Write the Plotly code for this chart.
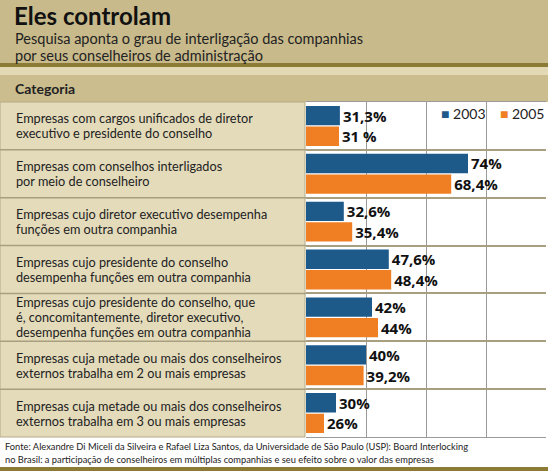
import plotly.graph_objects as go

# dados
categorias = [
    "Empresas com cargos unificados de diretor<br>executivo e presidente do conselho",
    "Empresas com conselhos interligados<br>por meio de conselheiro",
    "Empresas cujo diretor executivo desempenha<br>funções em outra companhia",
    "Empresas cujo presidente do conselho<br>desempenha funções em outra companhia",
    "Empresas cujo presidente do conselho, que<br>é, concomitantemente, diretor executivo,<br>desempenha funções em outra companhia",
    "Empresas cuja metade ou mais dos conselheiros<br>externos trabalha em 2 ou mais empresas",
    "Empresas cuja metade ou mais dos conselheiros<br>externos trabalha em 3 ou mais empresas",
]
v2003 = [31.3, 74, 32.6, 47.6, 42, 40, 30]
v2005 = [31, 68.4, 35.4, 48.4, 44, 39.2, 26]
rot2003 = ["31,3%", "74%", "32,6%", "47,6%", "42%", "40%", "30%"]
rot2005 = ["31 %", "68,4%", "35,4%", "48,4%", "44%", "39,2%", "26%"]

W, H = 548, 471
L, R, T, B = 306, 2, 102, 34
pw, ph = W - L - R, H - T - B

def xp(px):
    return (px - L) / pw

def yp(py):
    return (H - B - py) / ph

azul = "#1d5a8a"
laranja = "#f07f23"
fonte = "Lato"

fig = go.Figure()
fig.add_trace(go.Bar(y=categorias, x=v2003, orientation="h", name="2003",
                     marker=dict(color=azul, line=dict(width=0)),
                     text=rot2003, textposition="outside", constraintext="none",
                     cliponaxis=False, showlegend=False,
                     textfont=dict(family="Open Sans", size=15, color="#111", weight="bold")))
fig.add_trace(go.Bar(y=categorias, x=v2005, orientation="h", name="2005",
                     marker=dict(color=laranja, line=dict(width=0)),
                     text=rot2005, textposition="outside", constraintext="none",
                     cliponaxis=False, showlegend=False,
                     textfont=dict(family="Open Sans", size=15, color="#111", weight="bold")))

shapes = [
    # faixa do título
    dict(type="rect", xref="paper", yref="paper", x0=xp(0), x1=xp(W), y0=yp(63), y1=yp(0),
         fillcolor="#c8ba8b", line_width=0, layer="below"),
    dict(type="rect", xref="paper", yref="paper", x0=xp(0), x1=xp(W), y0=yp(67), y1=yp(63),
         fillcolor="#8c7b34", line_width=0, layer="below"),
    dict(type="rect", xref="paper", yref="paper", x0=xp(0), x1=xp(W), y0=yp(75), y1=yp(67),
         fillcolor="#e3d9b5", line_width=0, layer="below"),
    dict(type="rect", xref="paper", yref="paper", x0=xp(0), x1=xp(W), y0=yp(102), y1=yp(75),
         fillcolor="#cbbd8e", line_width=0, layer="below"),
    # área dos rótulos
    dict(type="rect", xref="paper", yref="paper", x0=xp(0), x1=xp(305), y0=yp(437), y1=yp(102),
         fillcolor="#e4dbbb", line=dict(color="#b5aa85", width=1), layer="below"),
    # linha inferior
    dict(type="rect", xref="paper", yref="paper", x0=xp(0), x1=xp(W), y0=yp(H), y1=yp(467),
         fillcolor="#8c7b34", line_width=0, layer="below"),
]
for i in range(len(categorias) - 1):
    shapes.append(dict(type="line", xref="paper", yref="y", x0=xp(0), x1=xp(306),
                       y0=i + 0.5, y1=i + 0.5, line=dict(color="#a89f80", width=1.5)))

annotations = [
    dict(text="<b>Eles controlam</b>", x=xp(12), y=yp(-0.5), xanchor="left", yanchor="top",
         font=dict(family=fonte, size=24, color="#111")),
    dict(text="Pesquisa aponta o grau de interligação das companhias",
         x=xp(13), y=yp(38.5), xanchor="left", yanchor="middle",
         font=dict(family=fonte, size=14.5, color="#222")),
    dict(text="por seus conselheiros de administração",
         x=xp(13), y=yp(56), xanchor="left", yanchor="middle",
         font=dict(family=fonte, size=14.5, color="#222")),
    dict(text="<b>Categoria</b>", x=xp(13), y=yp(88), xanchor="left", yanchor="middle",
         font=dict(family=fonte, size=14, color="#222")),
    dict(text="Fonte: Alexandre Di Miceli da Silveira e Rafael Liza Santos, da Universidade de São Paulo (USP): Board Interlocking",
         x=xp(3), y=yp(446), xanchor="left", yanchor="middle",
         font=dict(family=fonte, size=9.3, color="#222")),
    dict(text="no Brasil: a participação de conselheiros em múltiplas companhias e seu efeito sobre o valor das empresas",
         x=xp(3), y=yp(459), xanchor="left", yanchor="middle",
         font=dict(family=fonte, size=9.3, color="#222")),
    # legenda
    dict(text=f"<span style='color:{azul}'>■</span> 2003    <span style='color:{laranja}'>■</span> 2005",
         x=xp(546), y=yp(113), xanchor="right", yanchor="middle",
         font=dict(family=fonte, size=14, color="#222")),
]
passo = 15 / (ph / len(categorias))
for i, c in enumerate(categorias):
    linhas = c.split("<br>")
    for k, t in enumerate(linhas):
        annotations.append(dict(text=t, x=xp(14), y=i + (k - (len(linhas) - 1) / 2) * passo,
                                xref="paper", yref="y", xanchor="left", yanchor="middle",
                                font=dict(family=fonte, size=12.7, color="#222")))
for a in annotations:
    a.setdefault("xref", "paper")
    a.setdefault("yref", "paper")
    a["showarrow"] = False

fig.update_layout(
    width=W, height=H,
    margin=dict(l=L, r=R, t=T, b=B),
    paper_bgcolor="white", plot_bgcolor="white",
    barmode="group", bargap=0.14, bargroupgap=0.06,
    shapes=shapes, annotations=annotations,
    showlegend=False,
    font=dict(family=fonte),
)
fig.update_xaxes(range=[20, 100], dtick=20, showgrid=True, gridcolor="#9a9a9a", gridwidth=1,
                 showticklabels=False, zeroline=False, showline=True, linecolor="#9a9a9a",
                 mirror=True, fixedrange=True)
fig.update_yaxes(autorange="reversed", tickson="boundaries", showgrid=True, gridcolor="#a89f80",
                 gridwidth=1.5, showticklabels=False, ticks="", fixedrange=True)

fig.write_html("out.html", config={"displayModeBar": False},
               post_script="document.body.style.margin='0';")
